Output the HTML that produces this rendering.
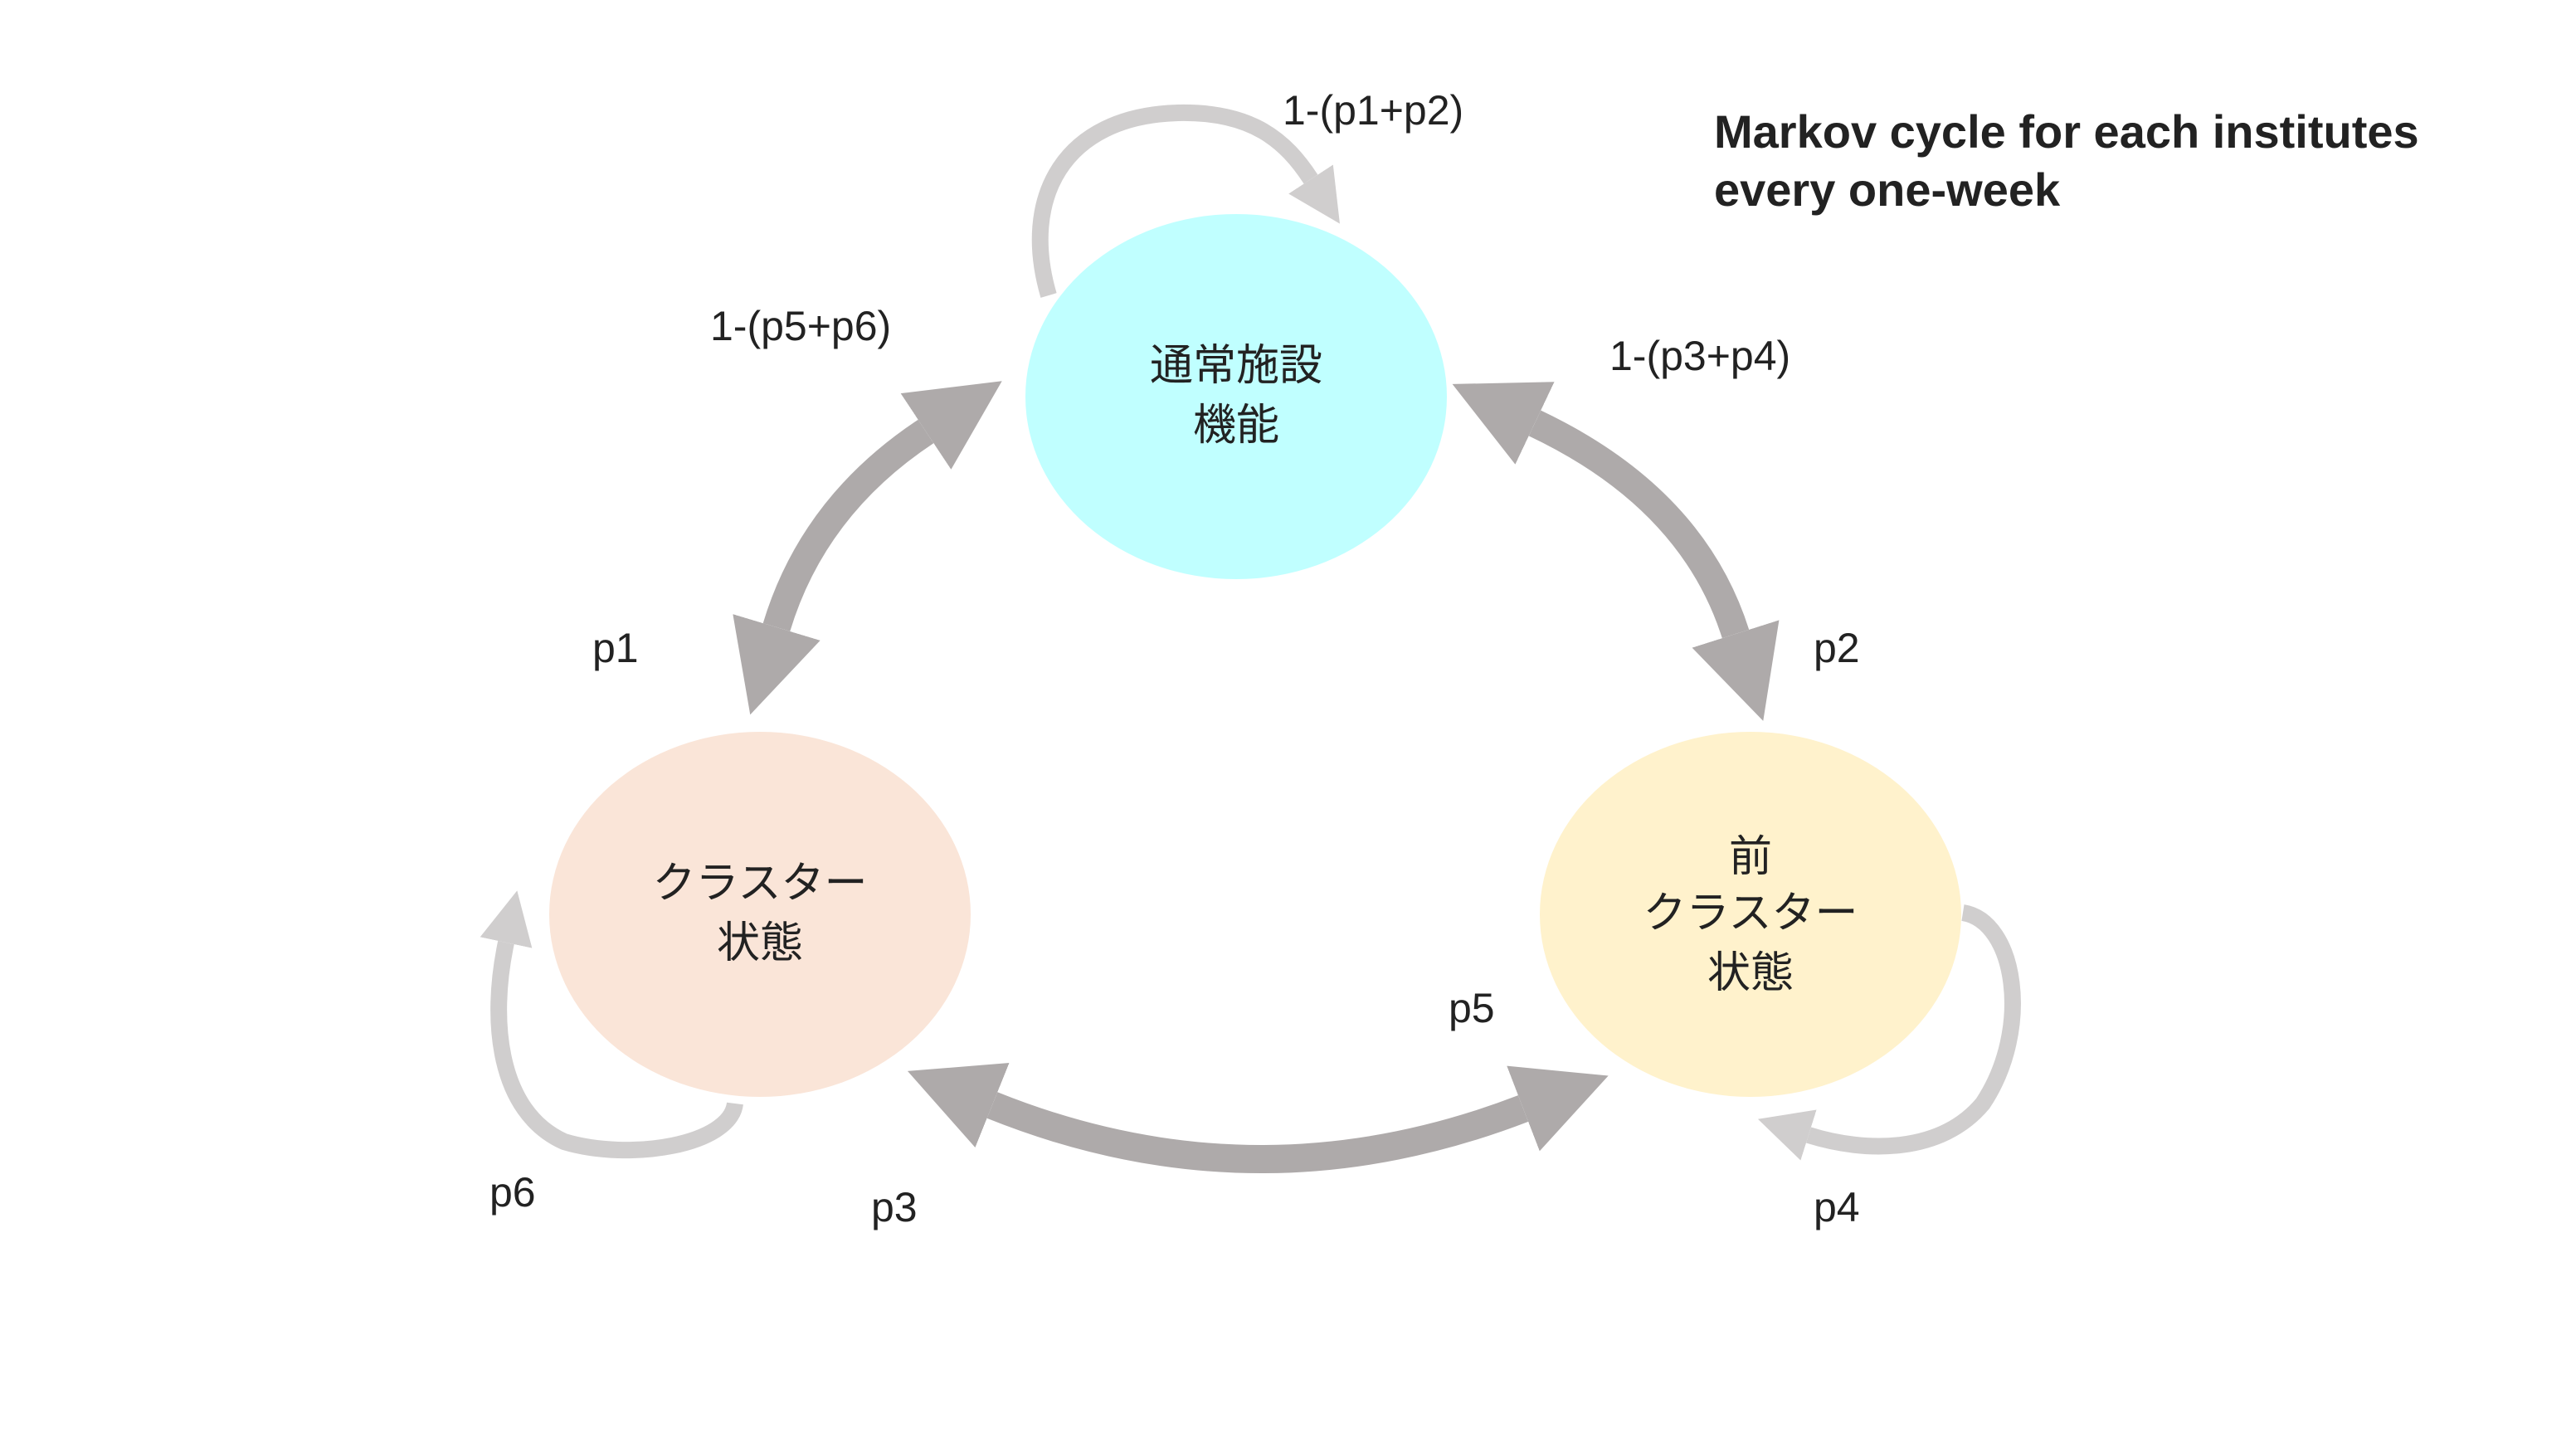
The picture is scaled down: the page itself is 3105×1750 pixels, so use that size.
<!DOCTYPE html>
<html><head><meta charset="utf-8"><style>
html,body{margin:0;padding:0;background:#fff;}
svg{display:block;}
text{font-family:"Liberation Sans","Noto Sans CJK JP",sans-serif;fill:#222;}
</style></head><body>
<svg width="3105" height="1750" viewBox="0 0 1552.5 875" xmlns="http://www.w3.org/2000/svg">
<defs>
<marker id="big" markerUnits="userSpaceOnUse" viewBox="0 0 10 10" refX="0" refY="5" markerWidth="55" markerHeight="64" orient="auto-start-reverse">
<path d="M0,0 L10,5 L0,10 z" fill="#aeaaaa"/></marker>
<marker id="sm" markerUnits="userSpaceOnUse" viewBox="0 0 10 10" refX="0" refY="5" markerWidth="32" markerHeight="36" orient="auto">
<path d="M0,0 L10,5 L0,10 z" fill="#d0cece"/></marker>
</defs>
<rect width="1552.5" height="875" fill="#fff"/>
<!-- self loops -->
<path d="M632,178 C615,120 640,70 710,68 C755,67 775,85 790,108" fill="none" stroke="#d0cece" stroke-width="10" marker-end="url(#sm)"/>
<path d="M443,665 C440,690 380,700 340,688 C300,670 295,615 305,568" fill="none" stroke="#d0cece" stroke-width="10" marker-end="url(#sm)"/>
<path d="M1183,550 C1215,555 1225,620 1195,665 C1170,695 1125,695 1090,684" fill="none" stroke="#d0cece" stroke-width="10" marker-end="url(#sm)"/>
<!-- thick arrows -->
<path d="M558,260 Q490,305 468,378" fill="none" stroke="#aeaaaa" stroke-width="17" marker-start="url(#big)" marker-end="url(#big)"/>
<path d="M925,255 Q1020,300 1046,382" fill="none" stroke="#aeaaaa" stroke-width="17" marker-start="url(#big)" marker-end="url(#big)"/>
<path d="M598,666 Q757,730 918,668" fill="none" stroke="#aeaaaa" stroke-width="17" marker-start="url(#big)" marker-end="url(#big)"/>
<!-- nodes -->
<ellipse cx="745" cy="239" rx="127" ry="110" fill="#c0ffff"/>
<ellipse cx="458" cy="551" rx="127" ry="110" fill="#fae5d8"/>
<ellipse cx="1055" cy="551" rx="127" ry="110" fill="#fff2cc"/>
<g font-size="26" text-anchor="middle">
<text x="745" y="229">通常施設</text>
<text x="745" y="265">機能</text>
<text x="458" y="541">クラスター</text>
<text x="458" y="577">状態</text>
<text x="1055" y="525">前</text>
<text x="1055" y="559">クラスター</text>
<text x="1055" y="595">状態</text>
</g>
<g font-size="25">
<text x="773" y="75">1-(p1+p2)</text>
<text x="428" y="205">1-(p5+p6)</text>
<text x="970" y="223">1-(p3+p4)</text>
<text x="357" y="399">p1</text>
<text x="1093" y="399">p2</text>
<text x="873" y="616">p5</text>
<text x="525" y="736">p3</text>
<text x="295" y="727">p6</text>
<text x="1093" y="736">p4</text>
</g>
<g font-size="28" font-weight="bold">
<text x="1033" y="89" fill="#000">Markov cycle for each institutes</text>
<text x="1033" y="124" fill="#000">every one-week</text>
</g>
</svg>
</body></html>
